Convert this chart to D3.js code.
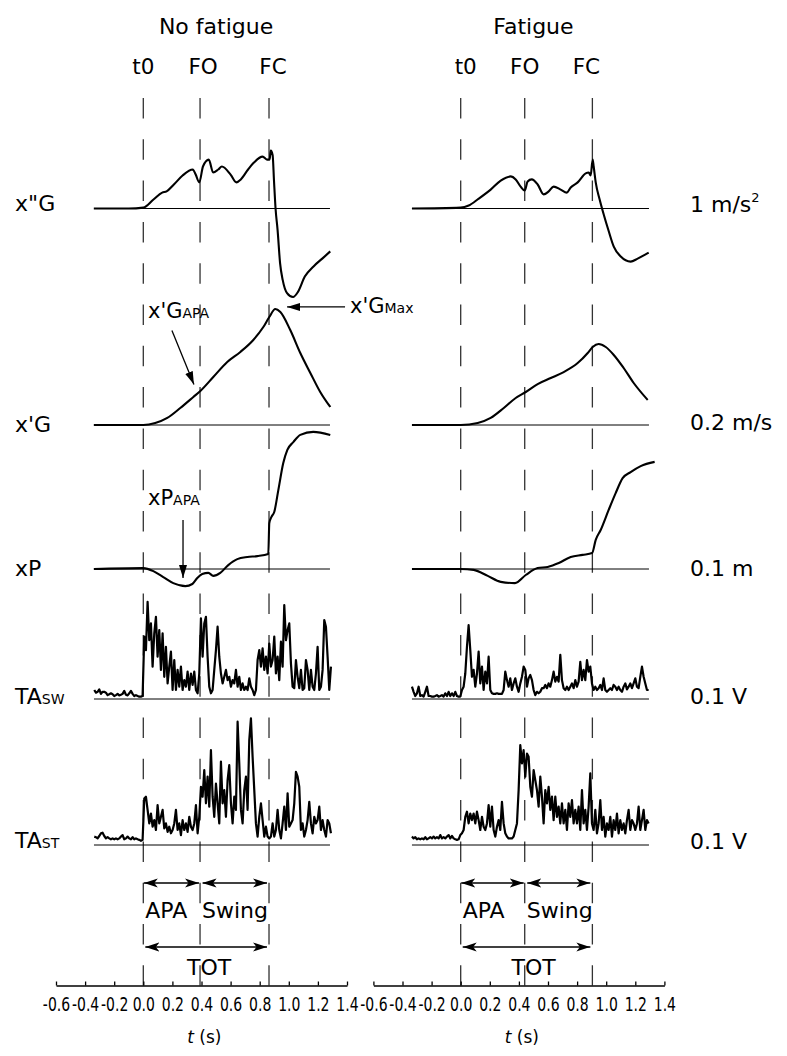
<!DOCTYPE html>
<html><head><meta charset="utf-8">
<script src="https://cdn.jsdelivr.net/npm/d3@7"></script>
<style>
body{margin:0;background:#fff}
svg{display:block}
text{font-family:'DejaVu Sans',sans-serif;fill:#000}
</style>
</head><body>
<svg id="c" width="787" height="1056"></svg>
<script>
// ---------------- DATA ----------------
const eventNames = ["t0", "FO", "FC"];
const eventsNoFatigue = [0, 0.39, 0.864];   // s
const eventsFatigue = [0, 0.44, 0.905];     // s
const tickValues = [-0.6, -0.4, -0.2, 0, 0.2, 0.4, 0.6, 0.8, 1.0, 1.2, 1.4];
const tickLabels = ["-0.6", "-0.4", "-0.2", "0.0", "0.2", "0.4", "0.6", "0.8", "1.0", "1.2", "1.4"];
const panelTitles = ["No fatigue", "Fatigue"];
const trackNames = [["x\"G", ""], ["x'G", ""], ["xP", ""], ["TA", "SW"], ["TA", "ST"]];
const scaleLabels = [["1 m/s", "2"], ["0.2 m/s", ""], ["0.1 m", ""], ["0.1 V", ""], ["0.1 V", ""]];
const traceSpanNoFatigue = [-0.339, 1.283];
const traceSpanFatigue = [-0.335, 1.294];

// x''G (m/s^2): [t (s), value]
const accNoFatigue = [[-0.34,0],[-0.10,0],[0.00,0.03],[0.07,0.30],[0.13,0.53],[0.16,0.57],[0.21,0.80],[0.27,1.10],[0.34,1.30],[0.36,1.13],[0.385,0.87],[0.41,1.40],[0.45,1.63],[0.48,1.20],[0.515,1.30],[0.54,1.40],[0.60,1.13],[0.64,0.87],[0.67,0.97],[0.72,1.30],[0.76,1.53],[0.82,1.73],[0.85,1.63],[0.868,1.63],[0.876,1.93],[0.889,1.78],[0.898,0.95],[0.909,0],[0.923,-0.72],[0.94,-1.82],[0.958,-2.38],[0.988,-2.82],[1.029,-2.95],[1.063,-2.78],[1.11,-2.27],[1.17,-1.93],[1.23,-1.67],[1.285,-1.43]];
const accFatigue = [[-0.335,0],[0,0.03],[0.055,0.1],[0.124,0.33],[0.206,0.63],[0.275,0.93],[0.344,1.07],[0.378,0.97],[0.412,0.73],[0.44,0.6],[0.46,0.9],[0.488,0.97],[0.529,0.8],[0.57,0.47],[0.605,0.57],[0.639,0.73],[0.687,0.63],[0.729,0.53],[0.756,0.7],[0.804,0.87],[0.859,1.17],[0.88,1.2],[0.893,1.1],[0.907,1.63],[0.914,1.4],[0.928,0.87],[0.955,0.3],[0.983,-0.2],[1.017,-0.75],[1.052,-1.27],[1.10,-1.6],[1.168,-1.77],[1.216,-1.67],[1.292,-1.47]];
// x'G (m/s)
const velNoFatigue = [[-0.34,0],[0,0],[0.082,0.013],[0.165,0.047],[0.254,0.113],[0.344,0.187],[0.392,0.227],[0.481,0.32],[0.577,0.42],[0.667,0.487],[0.756,0.567],[0.825,0.653],[0.866,0.72],[0.907,0.773],[0.942,0.753],[1.010,0.633],[1.079,0.48],[1.148,0.347],[1.216,0.22],[1.285,0.12]];
const velFatigue = [[-0.335,0],[0,0],[0.117,0.013],[0.206,0.047],[0.296,0.113],[0.378,0.18],[0.447,0.22],[0.529,0.273],[0.619,0.313],[0.708,0.353],[0.804,0.413],[0.873,0.48],[0.907,0.52],[0.948,0.54],[0.997,0.52],[1.052,0.467],[1.12,0.38],[1.189,0.28],[1.285,0.167]];
// xP (m)
const posNoFatigue = [[-0.34,0],[0,0.003],[0.069,-0.007],[0.137,-0.027],[0.206,-0.047],[0.289,-0.057],[0.337,-0.05],[0.371,-0.03],[0.405,-0.017],[0.447,-0.013],[0.481,-0.023],[0.529,-0.013],[0.584,0.013],[0.646,0.033],[0.715,0.04],[0.783,0.043],[0.859,0.05],[0.866,0.153],[0.88,0.173],[0.90,0.19],[0.928,0.263],[0.962,0.353],[0.99,0.397],[1.031,0.423],[1.079,0.447],[1.168,0.457],[1.285,0.447]];
const posFatigue = [[-0.335,0],[0,0],[0.089,-0.003],[0.186,-0.023],[0.275,-0.043],[0.373,-0.047],[0.447,-0.02],[0.529,0.003],[0.598,0.007],[0.674,0.02],[0.756,0.04],[0.838,0.047],[0.903,0.053],[0.928,0.097],[0.962,0.13],[1.017,0.197],[1.065,0.253],[1.113,0.303],[1.168,0.323],[1.237,0.343],[1.333,0.357]];

// TA EMG (mV), sampled every emgDt seconds from the start time
const emgDt = 0.011455;
const emgStartNoFatigue = -0.337;
const emgStartFatigue = -0.335;
const taSwNoFatigue = [30,21,24,32,17,24,24,21,13,16,19,16,10,13,17,12,14,17,27,14,12,19,27,17,10,13,10,8,8,10,
208,163,324,196,252,108,219,274,141,230,97,219,74,174,52,108,158,30,130,30,97,41,108,30,63,41,91,30,85,47,91,30,19,85,
269,141,252,274,141,41,19,30,97,163,241,141,85,52,74,97,63,74,41,63,52,97,41,74,30,52,30,41,30,69,41,30,13,30,
130,163,108,169,97,141,85,185,108,130,208,85,141,63,191,108,313,196,230,252,119,41,36,130,74,36,97,30,36,130,97,30,97,41,30,85,174,30,41,97,263,241,141,30,108];
const taStNoFatigue = [28,26,22,30,39,41,30,22,26,22,19,22,19,22,19,22,28,33,19,22,28,22,19,26,19,22,19,17,14,17,
155,161,117,72,105,61,83,50,133,72,94,117,55,72,44,61,39,50,72,117,50,72,33,83,50,72,44,94,61,50,72,133,39,94,
194,161,250,139,228,128,316,161,94,205,139,72,278,139,183,94,216,266,139,72,161,117,411,272,117,72,183,228,117,350,422,294,183,72,
28,94,139,83,28,61,28,22,28,72,28,50,117,50,22,72,128,50,172,61,72,83,139,244,228,194,50,72,28,50,83,144,72,39,94,72,83,128,50,83,50,28,83,72,39];
const taSwFatigue = [41,24,10,19,41,10,13,8,24,41,10,10,8,8,10,13,8,10,13,8,19,10,24,10,19,10,24,10,8,8,
30,41,85,174,246,163,74,97,41,85,158,52,108,30,91,52,141,30,19,17,17,19,17,17,17,30,91,63,41,69,30,52,69,41,
24,52,74,108,97,41,69,80,63,30,13,24,19,24,36,36,47,36,52,41,63,91,58,74,58,147,63,36,30,41,30,41,52,36,
63,41,58,124,63,97,63,130,91,108,52,30,41,30,36,47,30,69,30,24,30,36,30,47,41,30,41,30,24,41,52,32,41,52,36,52,69,41,36,74,108,74,52,30,30];
const taStFatigue = [28,22,26,19,22,19,22,19,26,19,22,26,22,28,22,26,22,33,22,26,22,28,33,22,30,22,19,17,19,33,
39,50,94,111,72,105,83,105,72,111,83,50,94,61,50,72,133,61,128,50,28,61,83,50,144,72,39,28,22,22,22,28,50,72,
183,333,272,316,228,305,294,194,161,250,216,183,128,228,161,72,183,139,194,117,161,83,161,94,128,72,139,72,117,50,139,94,150,72,
117,72,128,50,183,72,117,50,128,239,72,50,117,39,72,150,50,94,28,72,50,94,28,83,50,105,39,83,50,72,39,83,117,50,83,72,50,72,128,50,83,117,50,83,72];

// ---------------- LAYOUT ----------------
const tracks = [
  {key:"acc", base:208.5, unit:1,   px:30},
  {key:"vel", base:425,   unit:0.2, px:30},
  {key:"pos", base:569,   unit:0.1, px:30},
  {key:"sw",  base:699,   unit:100, px:30},
  {key:"st",  base:845,   unit:100, px:30}
];
const yScales = {};
tracks.forEach(t => { yScales[t.key] = d3.scaleLinear().domain([0, t.unit]).range([t.base, t.base - t.px]); });

function emgPoints(start, arr){ return arr.map((v,i)=>[start + i*emgDt, v]); }

const panels = [
  {title:panelTitles[0], range:[56,347], events:eventsNoFatigue, span:traceSpanNoFatigue, evDx:[0,3,4],
   series:{acc:accNoFatigue, vel:velNoFatigue, pos:posNoFatigue, sw:emgPoints(emgStartNoFatigue, taSwNoFatigue), st:emgPoints(emgStartNoFatigue, taStNoFatigue)}},
  {title:panelTitles[1], range:[373.4,664.4], events:eventsFatigue, span:traceSpanFatigue, evDx:[5,0,-6],
   series:{acc:accFatigue, vel:velFatigue, pos:posFatigue, sw:emgPoints(emgStartFatigue, taSwFatigue), st:emgPoints(emgStartFatigue, taStFatigue)}}
];

const svg = d3.select("#c");
svg.append("rect").attr("width",787).attr("height",1056).attr("fill","#fff");
const defs = svg.append("defs");
defs.append("marker").attr("id","dh").attr("viewBox","0 -5 14 10").attr("refX",14).attr("refY",0)
  .attr("markerWidth",14).attr("markerHeight",10).attr("markerUnits","userSpaceOnUse").attr("orient","auto-start-reverse")
  .append("path").attr("d","M0,-4.5L14,0L0,4.5L3.5,0Z").attr("fill","#000");
defs.append("marker").attr("id","ah").attr("viewBox","0 -5 13 10").attr("refX",13).attr("refY",0)
  .attr("markerWidth",13).attr("markerHeight",10).attr("markerUnits","userSpaceOnUse").attr("orient","auto")
  .append("path").attr("d","M0,-4L13,0L0,4Z").attr("fill","#000");

const AXIS_Y = 985.5;

panels.forEach((p, pi) => {
  const x = d3.scaleLinear().domain([-0.6, 1.4]).range(p.range);
  p.x = x;
  const g = svg.append("g");

  // dashed event lines
  g.selectAll("line.ev").data(p.events).join("line")
    .attr("x1", d => x(d)).attr("x2", d => x(d)).attr("y1", 98).attr("y2", AXIS_Y)
    .attr("stroke", "#333").attr("stroke-width", 1.3).attr("stroke-dasharray", "20.5,20.8");

  // title & event labels
  g.append("text").attr("x", x(0.5)).attr("y", 34).attr("text-anchor","middle").attr("font-size",22).text(p.title);
  g.selectAll("text.evl").data(p.events).join("text")
    .attr("x", (d,i) => x(d) + p.evDx[i]).attr("y", 74).attr("text-anchor","middle").attr("font-size",21.5)
    .text((d,i) => eventNames[i]);

  // baselines and traces
  tracks.forEach(t => {
    const y = yScales[t.key];
    g.append("line").attr("x1", x(p.span[0])).attr("x2", x(p.span[1])).attr("y1", y(0)).attr("y2", y(0))
      .attr("stroke","#000").attr("stroke-width",1);
    const emg = (t.key === "sw" || t.key === "st");
    const line = d3.line().x(d => x(d[0])).y(d => y(d[1])).curve(emg ? d3.curveLinear : d3.curveMonotoneX);
    g.append("path").attr("d", line(p.series[t.key])).attr("fill","none").attr("stroke","#000")
      .attr("stroke-width", emg ? 2.2 : 2.1).attr("stroke-linejoin","round");
  });

  // axis
  const axis = d3.axisBottom(x).tickValues(tickValues).tickFormat((d,i) => tickLabels[i])
    .tickSizeInner(-4).tickSizeOuter(0).tickPadding(11);
  const ag = g.append("g").attr("transform", `translate(0,${AXIS_Y})`).call(axis);
  ag.select(".domain").attr("stroke","#000").attr("stroke-width",1.5);
  ag.selectAll(".tick line").attr("stroke","#000").attr("stroke-width",1.3);
  ag.selectAll(".tick text").attr("font-size",20).attr("font-family","'DejaVu Sans',sans-serif")
    .attr("fill","#000").attr("transform","scale(0.7,1)");
  const tl = g.append("text").attr("x", x(0.42)).attr("y", 1043).attr("text-anchor","middle").attr("font-size",17);
  tl.append("tspan").attr("font-style","italic").text("t");
  tl.append("tspan").text(" (s)");

  // phase arrows
  const [e0, e1, e2] = p.events.map(x);
  const arrows = [[e0+0.5, e1-1, 883], [e1+2.5, e2-2, 883], [e0+2, e2-2, 947]];
  g.selectAll("line.ph").data(arrows).join("line")
    .attr("x1", d => d[0]).attr("x2", d => d[1]).attr("y1", d => d[2]).attr("y2", d => d[2])
    .attr("stroke","#000").attr("stroke-width",1.5)
    .attr("marker-start","url(#dh)").attr("marker-end","url(#dh)");
  g.append("text").attr("x", e0 + 2).attr("y", 918).attr("font-size",22).text("APA");
  g.append("text").attr("x", e1 + 2).attr("y", 918).attr("font-size",22).text("Swing");
  g.append("text").attr("x", e1 + 9).attr("y", 975).attr("text-anchor","middle").attr("font-size",22).text("TOT");
});

// left track labels
const labY = [211, 432, 576, 704, 848];
trackNames.forEach((n, i) => {
  const t = svg.append("text").attr("x", 15).attr("y", labY[i]).attr("font-size", 22);
  t.append("tspan").text(n[0]);
  if (n[1]) t.append("tspan").attr("font-size", 14).text(n[1]);
});
// right scale labels
const sclY = [212, 430, 576, 704, 849];
scaleLabels.forEach((n, i) => {
  const t = svg.append("text").attr("x", 690).attr("y", sclY[i]).attr("font-size", 22);
  t.append("tspan").text(n[0]);
  if (n[1]) t.append("tspan").attr("font-size", 13).attr("dy", -10).text(n[1]);
});

// annotations (No fatigue panel)
const xl = panels[0].x;
const annotations = [
  {track:"vel", t:0.348, v:0.27, dx:-22, dy:-54, label:["x'G","APA"], lx:148, ly:318},
  {track:"vel", t:0.988, v:0.787, dx:58, dy:0, label:["x'G","Max"], lx:350, ly:313},
  {track:"pos", t:0.273, v:-0.03, dx:0, dy:-58, label:["xP","APA"], lx:148, ly:505}
];
annotations.forEach(a => {
  const tx = xl(a.t), ty = yScales[a.track](a.v);
  svg.append("line").attr("x1", tx + a.dx).attr("y1", ty + a.dy).attr("x2", tx).attr("y2", ty)
    .attr("stroke","#000").attr("stroke-width",1.3).attr("marker-end","url(#ah)");
  const t = svg.append("text").attr("x", a.lx).attr("y", a.ly).attr("font-size", 21);
  t.append("tspan").text(a.label[0]);
  t.append("tspan").attr("font-size", 14).text(a.label[1]);
});
</script>
</body></html>
